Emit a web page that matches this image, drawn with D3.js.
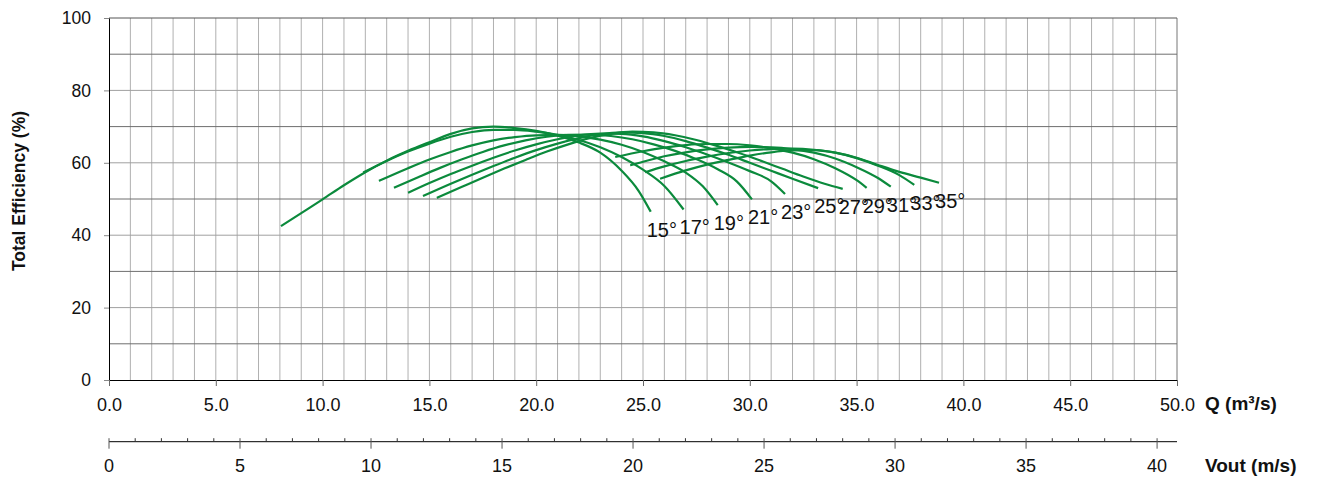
<!DOCTYPE html>
<html><head><meta charset="utf-8">
<script src="https://cdn.jsdelivr.net/npm/d3@7/dist/d3.min.js"></script>
<style>
body{margin:0;background:#fff}
svg text{font-family:"Liberation Sans",Arial,Helvetica,sans-serif;fill:#111}
</style>
</head><body>
<svg id="chart" width="1319" height="480"></svg>
<script>
// ---- data (Q in m3/s, efficiency in %) ----
const angleLabels = ["15°","17°","19°","21°","23°","25°","27°","29°","31°","33°","35°"];
const qTickValues = [0,5,10,15,20,25,30,35,40,45,50];
const effTickValues = [0,20,40,60,80,100];
const voutTickValues = [0,5,10,15,20,25,30,35,40];
const voutMax = 40.76;

const eff15 = [[8.05,42.5],[9.0,46.1],[10.0,49.9],[11.0,53.8],[12.0,57.4],[13.0,60.6],[14.0,63.3],[15.0,65.7],[16.0,68.0],[17.0,69.5],[18.0,70.0],[19.0,69.6],[20.0,68.8],[21.0,67.5],[22.0,65.6],[23.0,62.8],[24.0,57.8],[24.8,52.2],[25.36,46.5]];
const eff17 = [[11.9,57.3],[13,60.5],[14,63.1],[15,65.3],[16,67.2],[17,68.5],[18,69.1],[19,69.1],[20,68.6],[21,67.7],[22,66.3],[23,64.3],[24,61.6],[25,58.1],[26,53.6],[26.9,47.1]];
const eff19 = [[12.64,55.0],[14,58.5],[15,60.9],[16,63.0],[17,64.8],[18,66.2],[19,67.1],[20,67.6],[21,67.7],[22,67.3],[23,66.4],[24,65.0],[25,63.0],[26,60.4],[27,57.3],[27.8,53.5],[28.5,48.3]];
const eff21 = [[13.34,53.1],[14.5,56.1],[15.5,58.6],[16.5,60.9],[17.5,63.0],[18.5,64.8],[19.5,66.2],[20.5,67.2],[21.5,67.7],[22.5,67.8],[23.5,67.4],[24.5,66.5],[25.5,65.1],[26.5,63.3],[27.5,61.0],[28.5,58.2],[29.4,54.8],[30.1,49.9]];
const eff23 = [[14.0,51.7],[15,54.4],[16,56.9],[17,59.2],[18,61.4],[19,63.4],[20,65.1],[21,66.5],[22,67.6],[23,68.1],[24,68.0],[25,67.3],[26,66.0],[27,64.3],[28,62.3],[29,60.1],[30,57.7],[31,54.9],[31.65,51.4]];
const eff25 = [[14.7,50.8],[16,54.2],[17,56.7],[18,59.1],[19,61.4],[20,63.5],[21,65.3],[22,66.8],[23,67.9],[24,68.4],[25,68.2],[26,67.4],[27,66.0],[28,64.2],[29,62.2],[30,60.0],[31,57.8],[32,55.6],[33.2,53.0]];
const eff27 = [[15.35,50.3],[16.5,53.3],[17.5,55.9],[18.5,58.4],[19.5,60.8],[20.5,63.1],[21.5,65.1],[22.5,66.8],[23.5,68.0],[24.5,68.6],[25.5,68.4],[26.5,67.6],[27.5,66.3],[28.5,64.6],[29.5,62.7],[30.5,60.6],[31.5,58.4],[32.5,56.2],[33.5,54.2],[34.35,52.8]];
const eff29 = [[23.7,61.6],[25,63.2],[26,64.2],[27,64.9],[28,65.2],[29,65.2],[30,64.8],[31,64.0],[32,62.8],[33,61.0],[34,58.5],[35,55.2],[35.47,53.1]];
const eff31 = [[24.4,59.3],[25,60.3],[26,61.8],[27,62.9],[28,63.7],[29,64.2],[30,64.4],[31,64.3],[32,63.8],[33,62.8],[34,61.2],[35,58.8],[36,55.8],[36.6,53.4]];
const eff33 = [[25.1,57.4],[26,59.0],[27,60.5],[28,61.7],[29,62.7],[30,63.4],[31,63.8],[32,63.9],[33,63.6],[34,62.8],[35,61.3],[36,59.2],[37,56.6],[37.7,53.9]];
const eff35 = [[25.8,55.6],[27,57.9],[28,59.5],[29,60.8],[30,62.0],[31,62.9],[32,63.4],[33,63.5],[34,62.8],[35,61.4],[36,59.4],[37,57.5],[38,55.9],[38.86,54.5]];

const seriesList = [eff15,eff17,eff19,eff21,eff23,eff25,eff27,eff29,eff31,eff33,eff35];

// ---- layout ----
const L = 109, R = 1177, T = 18, B = 380;
const vAxisY = 441.7;
const svg = d3.select("#chart");
const x = d3.scaleLinear().domain([0,50]).range([L,R]);
const y = d3.scaleLinear().domain([0,100]).range([B,T]);
const v = d3.scaleLinear().domain([0,voutMax]).range([L,R]);

// grid
const grid = svg.append("g");
grid.selectAll("line.vg").data(d3.range(1,51)).join("line")
  .attr("x1",d=>x(d)).attr("x2",d=>x(d)).attr("y1",y(0)).attr("y2",y(100))
  .attr("stroke",d=>d===50?"#777":"#b0b0b0").attr("stroke-width",1);
grid.selectAll("line.hg").data(d3.range(10,101,10)).join("line")
  .attr("x1",L).attr("x2",R).attr("y1",d=>y(d)).attr("y2",d=>y(d))
  .attr("stroke",d=>d===100?"#555":(d%20===0?"#a0a0a0":"#6e6e6e")).attr("stroke-width",1);

// left axis
const gy = svg.append("g").attr("transform",`translate(${L},0)`)
  .call(d3.axisLeft(y).tickValues(effTickValues).tickSize(5).tickSizeOuter(0).tickPadding(13));
gy.select(".domain").attr("stroke","#000");
gy.selectAll(".tick line").attr("stroke","#888");
gy.selectAll(".tick text").style("font-size","17.5px").attr("fill","#111");

// bottom axis (Q)
const gx = svg.append("g").attr("transform",`translate(0,${B})`)
  .call(d3.axisBottom(x).tickValues(qTickValues).tickSize(6).tickSizeOuter(0).tickPadding(12).tickFormat(d3.format(".1f")));
gx.select(".domain").attr("stroke","#000");
gx.selectAll(".tick line").attr("stroke","#666");
gx.selectAll(".tick text").style("font-size","18px").attr("fill","#111");

svg.append("text").attr("x",1205).attr("y",410).style("font-size","19px").style("font-weight","bold")
  .text("Q (m³/s)");

// secondary axis (Vout)
const gv = svg.append("g");
gv.append("line").attr("x1",v(0)).attr("x2",v(voutMax)).attr("y1",vAxisY).attr("y2",vAxisY).attr("stroke","#000");
gv.selectAll("line.minor").data(d3.range(0,41).filter(d=>d%5!==0)).join("line")
  .attr("x1",d=>v(d)).attr("x2",d=>v(d)).attr("y1",vAxisY-3.5).attr("y2",vAxisY).attr("stroke","#333");
gv.selectAll("line.major").data(voutTickValues).join("line")
  .attr("x1",d=>v(d)).attr("x2",d=>v(d)).attr("y1",vAxisY-3.5).attr("y2",vAxisY+7).attr("stroke","#555");
gv.selectAll("text").data(voutTickValues).join("text")
  .attr("x",d=>v(d)).attr("y",472).attr("text-anchor","middle").style("font-size","18px").text(d=>d);
svg.append("text").attr("x",1205).attr("y",472).style("font-size","19px").style("font-weight","bold")
  .text("Vout (m/s)");

// y title
svg.append("text").attr("transform","translate(25,191) rotate(-90)").attr("text-anchor","middle")
  .style("font-size","17.5px").style("font-weight","bold").text("Total Efficiency (%)");

// curves
const line = d3.line().x(d=>x(d[0])).y(d=>y(d[1])).curve(d3.curveMonotoneX);
svg.append("g").selectAll("path").data(seriesList).join("path")
  .attr("d",line).attr("fill","none").attr("stroke","#0b8a3c").attr("stroke-width",2.2);

// curve labels
svg.append("g").selectAll("text").data(seriesList).join("text")
  .attr("x",d=>x(d[d.length-1][0])-4).attr("y",d=>y(d[d.length-1][1])+25)
  .style("font-size","20px").text((d,i)=>angleLabels[i]);
</script>
</body></html>
